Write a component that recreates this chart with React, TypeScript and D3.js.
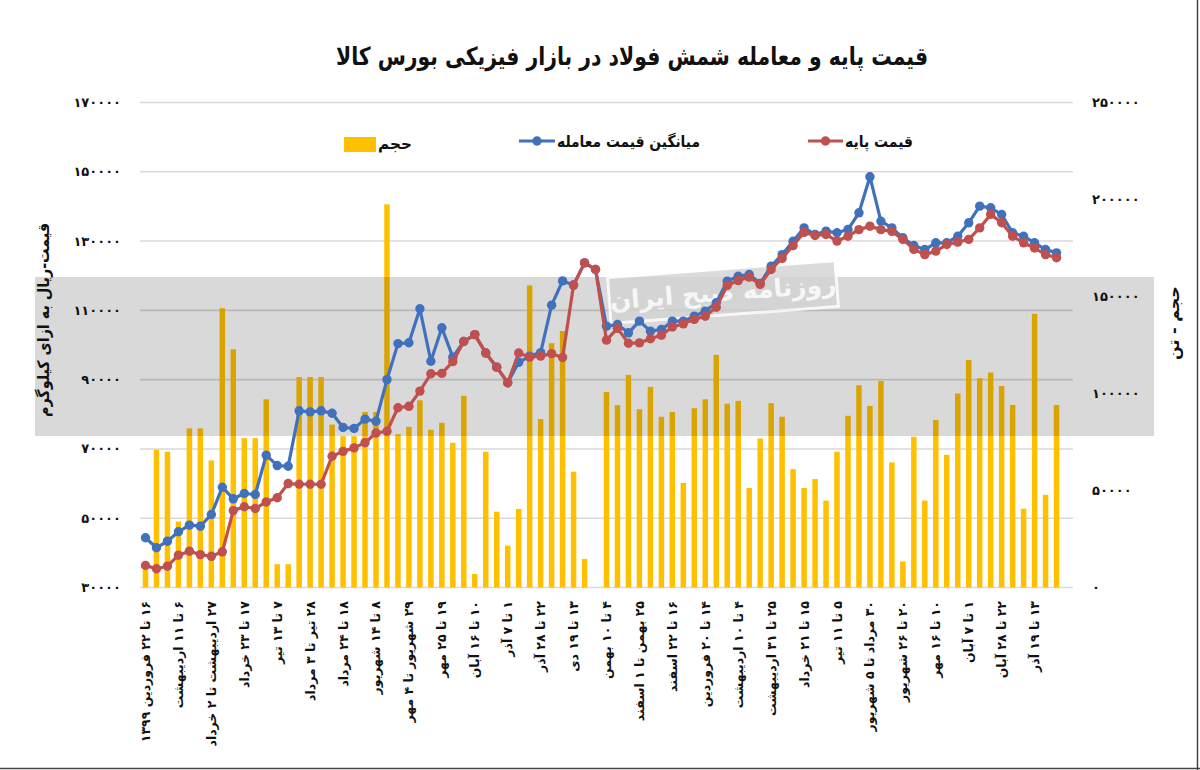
import React from "react";
import * as d3 from "d3";

// ---------- data ----------
const xTickLabels: string[] = [
  "۱۶ تا ۲۲ فروردین ۱۳۹۹",
  "۶ تا ۱۱ اردیبهشت",
  "۲۷ اردیبهشت تا ۲ خرداد",
  "۱۷ تا ۲۳ خرداد",
  "۷ تا ۱۳ تیر",
  "۲۸ تیر تا ۳ مرداد",
  "۱۸ تا ۲۴ مرداد",
  "۸ تا ۱۴ شهریور",
  "۲۹ شهریور تا ۴ مهر",
  "۱۹ تا ۲۵ مهر",
  "۱۰ تا ۱۶ آبان",
  "۱ تا ۷ آذر",
  "۲۲ تا ۲۸ آذر",
  "۱۳ تا ۱۹ دی",
  "۴ تا ۱۰ بهمن",
  "۲۵ بهمن تا ۱ اسفند",
  "۱۶ تا ۲۲ اسفند",
  "۱۴ تا ۲۰ فروردین",
  "۴ تا ۱۰ اردیبهشت",
  "۲۵ تا ۳۱ اردیبهشت",
  "۱۵ تا ۲۱ خرداد",
  "۵ تا ۱۱ تیر",
  "۳۰ مرداد تا ۵ شهریور",
  "۲۰ تا ۲۶ شهریور",
  "۱۰ تا ۱۶ مهر",
  "۱ تا ۷ آبان",
  "۲۲ تا ۲۸ آبان",
  "۱۳ تا ۱۹ آذر",
  "",
];
const labelEvery = 3;

const volume: (number | null)[] = [
  9000, 71000, 70000, 34000, 82000, 82000, 65500, 144000, 122800, 77000,
  77000, 97000, 12000, 12000, 108500, 108500, 108500, 84000, 78000, 78000,
  90500, 90500, 197500, 79000, 82800, 96500, 81300, 84900, 74600, 98800,
  7000, 70000, 39100, 21600, 40500, 155700, 86800, 125900, 132200, 59700,
  14750, null, 100800, 94000, 109600, 91900, 103400, 88000, 90500, 53900,
  92400, 97000, 119900, 94800, 96200, 51300, 76800, 95000, 88000, 61000,
  51300, 55900, 44800, 70000, 88500, 104300, 93600, 106500, 64500, 13400,
  77700, 44800, 86400, 68400, 100000, 117300, 107900, 110800, 103900, 94100,
  40600, 141100, 47800, 94100,
];

const basePrice: number[] = [
  36350, 35400, 36150, 39330, 40480, 39500, 39000, 40300, 52200, 53300,
  52800, 54700, 55900, 60000, 59800, 59800, 59800, 67900, 69300, 70300,
  71800, 74600, 75100, 81900, 82300, 86700, 91700, 91800, 95200, 101000,
  103000, 97700, 93600, 89100, 97700, 96500, 96800, 97500, 96400, 117300,
  123700, 121800, 101400, 104800, 100500, 100600, 101800, 102800, 105200, 106100,
  107400, 108300, 110900, 117200, 118600, 119600, 117500, 121800, 125000, 128700,
  132500, 131600, 131900, 130000, 131400, 133300, 134300, 133300, 132800, 130500,
  127600, 126100, 127100, 129000, 129700, 130500, 133800, 137700, 135300, 131400,
  129500, 128000, 126100, 125200,
];

const avgPrice: number[] = [
  44350, 41460, 43370, 46080, 48000, 47700, 51070, 58950, 55600, 57130,
  56850, 68200, 65200, 65000, 81000, 80700, 81000, 80300, 76200, 75900,
  78600, 78000, 90000, 100400, 100640, 110450, 95300, 104960, 96500, 101000,
  103000, 97700, 93600, 89100, 95000, 96800, 97800, 111500, 118500, 117300,
  123700, 121800, 105430, 105900, 103520, 106880, 104000, 104470, 106880, 106880,
  108320, 109760, 112180, 118420, 119860, 120350, 117800, 122750, 126100, 129960,
  133820, 131900, 132850, 132390, 133340, 138160, 148550, 135730, 133820, 130940,
  128720, 127560, 129500, 129500, 131400, 135270, 140080, 139600, 137670, 132390,
  131400, 129500, 127560, 126600,
];

const categoryCount = 85; // one trailing empty slot on the axis
const leftTicks: number[] = [30000, 50000, 70000, 90000, 110000, 130000, 150000, 170000];
const rightTicks: number[] = [0, 50000, 100000, 150000, 200000, 250000];

const title = "قیمت پایه و معامله شمش فولاد در بازار فیزیکی بورس کالا";
const legendVolume = "حجم";
const legendAvg = "میانگین قیمت معامله";
const legendBase = "قیمت پایه";
const leftTitle = "قیمت-ریال به ازای کیلوگرم";
const rightTitle = "حجم - تن";
const watermark = "روزنامه صبح ایران";

// ---------- helpers ----------
const faDigits = "۰۱۲۳۴۵۶۷۸۹";
const fa = (s: string) => s.replace(/\d/g, (d) => faDigits[+d]);
const RLM = "\u200F";

const BAR = "#FFC000";
const BLUE = "#4171BD";
const RED = "#C0504D";
const FONT = "'DejaVu Sans', sans-serif";

export default function App() {
  const W = 1200;
  const H = 770;
  const left = 140;
  const right = 1073;
  const bottom = 587.5;
  const top = 102.5;

  const x = d3
    .scaleBand<number>()
    .domain(d3.range(categoryCount))
    .range([left, right])
    .paddingInner(0.5)
    .paddingOuter(0.25);
  const cx = (i: number) => (x(i) as number) + x.bandwidth() / 2;
  const yL = d3.scaleLinear().domain([30000, 170000]).range([bottom, top]);
  const yR = d3.scaleLinear().domain([0, 250000]).range([bottom, top]);

  const lineGen = d3
    .line<number>()
    .x((_, i) => cx(i))
    .y((d) => yL(d));

  const bluePath = lineGen(avgPrice) || "";
  const redPath = lineGen(basePrice) || "";
  const R = 4.7;

  return (
    <div style={{ position: "absolute", left: 0, top: 0 }}>
      <svg width={W} height={H} style={{ display: "block", background: "#fff" }} fontFamily={FONT}>
        {/* gridlines */}
        {leftTicks.map((t) => (
          <line key={"g" + t} x1={left} x2={right} y1={yL(t)} y2={yL(t)} stroke="#d9d9d9" strokeWidth={1.6} />
        ))}

        {/* bars */}
        {volume.map((v, i) =>
          v == null ? null : (
            <rect key={"b" + i} x={x(i)} y={yR(v)} width={x.bandwidth()} height={yR(0) - yR(v)} fill={BAR} />
          )
        )}

        {/* watermark band */}
        <rect x={35} y={277} width={1119} height={159} fill="#000" opacity={0.15} />
        <g transform="translate(723,292) rotate(-4.3)" opacity={0.8}>
          <rect x={-114} y={-23} width={228} height={46} fill="#d3d3d3" stroke="#fff" strokeWidth={3} />
          <text x={0} y={0} dy="0.35em" textAnchor="middle" fill="#fff" fontSize={25} fontWeight="bold">
            {watermark}
          </text>
        </g>

        {/* lines */}
        <path d={bluePath} fill="none" stroke={BLUE} strokeWidth={3.2} strokeLinejoin="round" />
        {avgPrice.map((v, i) => (
          <circle key={"bc" + i} cx={cx(i)} cy={yL(v)} r={R} fill={BLUE} />
        ))}
        <path d={redPath} fill="none" stroke={RED} strokeWidth={3.2} strokeLinejoin="round" />
        {basePrice.map((v, i) => (
          <circle key={"rc" + i} cx={cx(i)} cy={yL(v)} r={R} fill={RED} />
        ))}

        {/* left axis labels */}
        {leftTicks.map((t) => (
          <text key={"lt" + t} x={121} y={yL(t)} dy="0.35em" textAnchor="end" fontSize={13} fontWeight="bold" fill="#111">
            {fa(String(t))}
          </text>
        ))}
        {/* right axis labels */}
        {rightTicks.map((t) => (
          <text key={"rt" + t} x={1092} y={yR(t)} dy="0.35em" textAnchor="start" fontSize={13} fontWeight="bold" fill="#111">
            {fa(String(t))}
          </text>
        ))}

        {/* x axis labels */}
        {xTickLabels.map((lab, k) => {
          const i = k * labelEvery;
          if (!lab || i >= categoryCount) return null;
          return (
            <text
              key={"xl" + k}
              transform={`translate(${cx(i)},601) rotate(-90)`}
              dy="0.36em"
              textAnchor="end"
              fontSize={12.5}
              fontWeight="bold"
              fill="#111"
            >
              {RLM + lab}
            </text>
          );
        })}

        {/* axis titles */}
        <text
          transform="translate(43,320) rotate(-90)"
          dy="0.35em"
          textAnchor="middle"
          fontSize={16}
          fontWeight="bold"
          fill="#111"
          textLength={194}
          lengthAdjust="spacingAndGlyphs"
        >
          {leftTitle}
        </text>
        <text transform="translate(1173,323) rotate(-90)" dy="0.35em" textAnchor="middle" fontSize={16} fontWeight="bold" fill="#111">
          {RLM + rightTitle}
        </text>

        {/* title */}
        <text
          x={632}
          y={56}
          dy="0.35em"
          textAnchor="middle"
          fontSize={25}
          fontWeight="bold"
          fill="#111"
          textLength={592}
          lengthAdjust="spacingAndGlyphs"
        >
          {title}
        </text>

        {/* legend */}
        <rect x={344} y={137} width={32} height={15} fill={BAR} />
        <text x={395} y={143} dy="0.35em" textAnchor="middle" fontSize={16} fontWeight="bold" fill="#111" textLength={34} lengthAdjust="spacingAndGlyphs">
          {legendVolume}
        </text>
        <line x1={519} x2={555} y1={141} y2={141} stroke={BLUE} strokeWidth={3.2} />
        <circle cx={537} cy={141} r={R} fill={BLUE} />
        <text x={628.5} y={141} dy="0.35em" textAnchor="middle" fontSize={16} fontWeight="bold" fill="#111" textLength={143} lengthAdjust="spacingAndGlyphs">
          {legendAvg}
        </text>
        <line x1={808} x2={843} y1={141} y2={141} stroke={RED} strokeWidth={3.2} />
        <circle cx={825.5} cy={141} r={R} fill={RED} />
        <text x={879} y={141} dy="0.35em" textAnchor="middle" fontSize={16} fontWeight="bold" fill="#111" textLength={68} lengthAdjust="spacingAndGlyphs">
          {legendBase}
        </text>

        {/* frame */}
        <line x1={1197.5} x2={1197.5} y1={0} y2={H} stroke="#444" strokeWidth={1.5} />
        <line x1={0} x2={W} y1={768.5} y2={768.5} stroke="#444" strokeWidth={1.5} />
      </svg>
    </div>
  );
}
